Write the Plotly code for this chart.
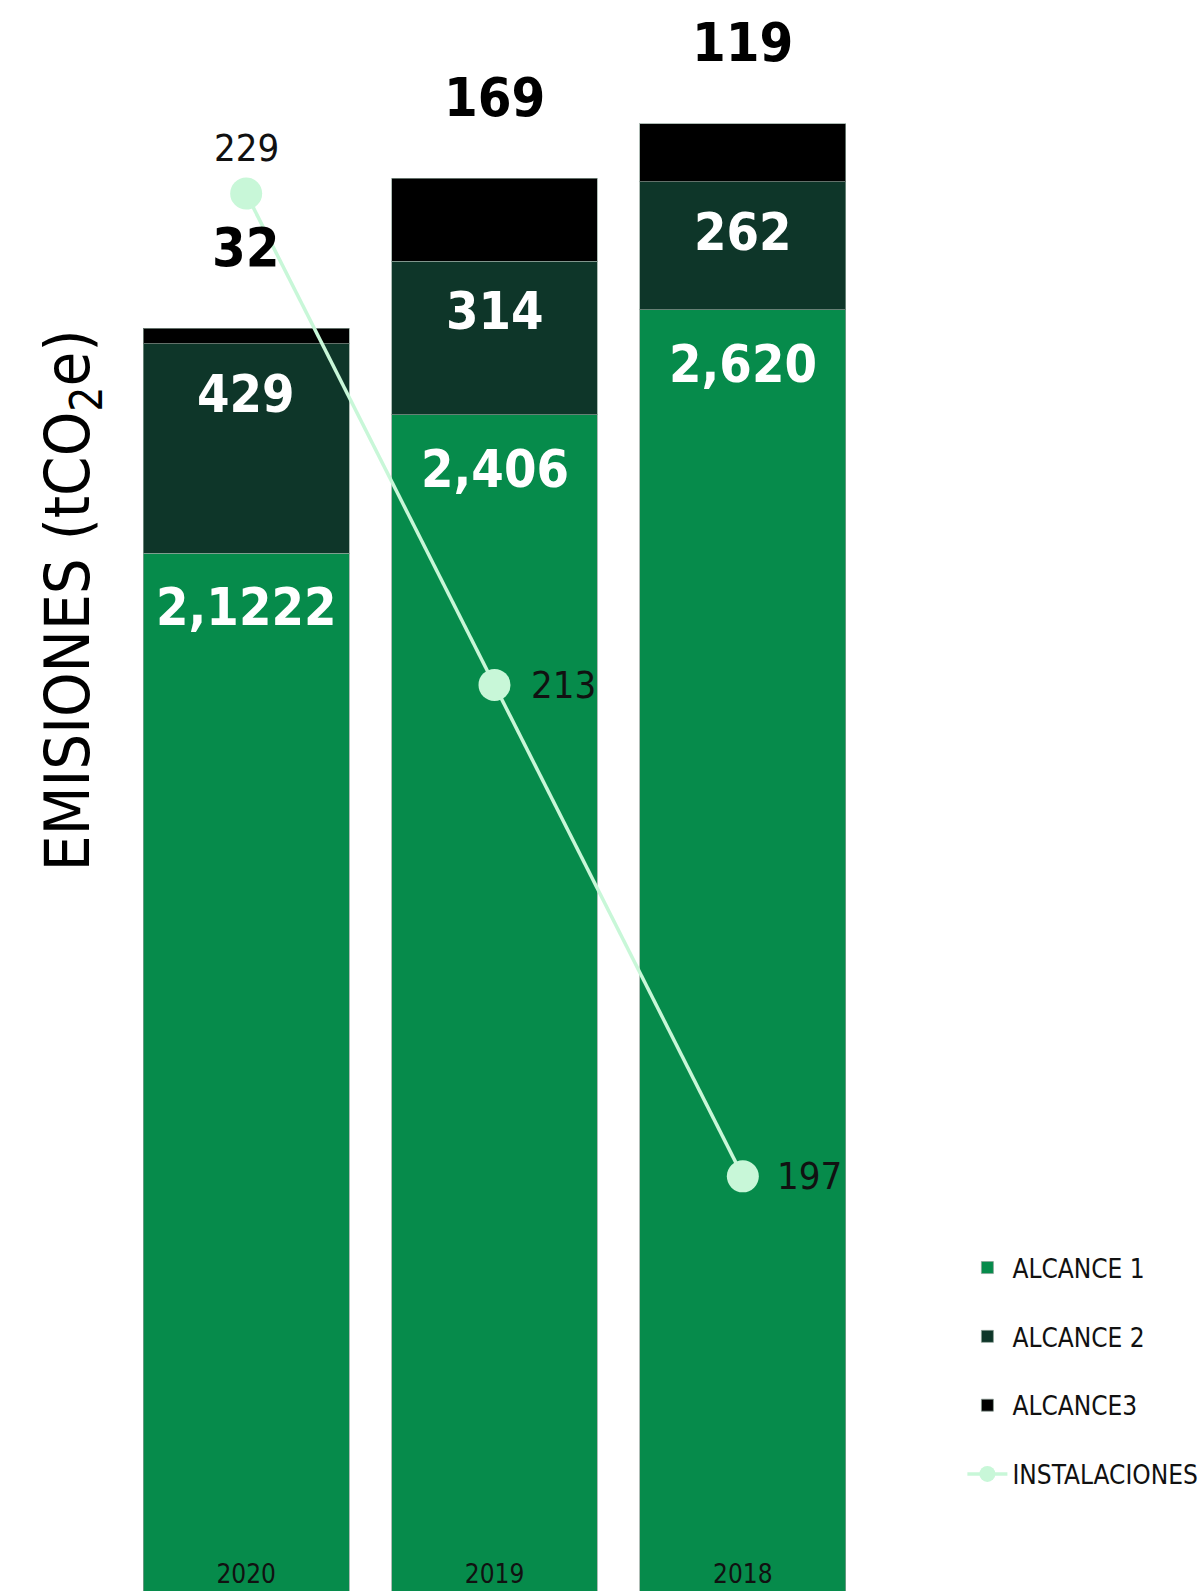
import plotly.graph_objects as go

# Emissions by scope (tCO2e) and number of installations per year
years = ["2020", "2019", "2018"]
alcance1 = [2122, 2406, 2620]
alcance2 = [429, 314, 262]
alcance3 = [32, 169, 119]
instalaciones = [229, 213, 197]

# Printed value labels
alcance1_labels = ["2,1222", "2,406", "2,620"]
alcance2_labels = ["429", "314", "262"]
alcance3_labels = ["32", "169", "119"]
# label placement around each installation marker: (side, x shift, y shift)
inst_label_place = [("center", 0, 46), ("left", 34, 0), ("left", 32, 0)]

GREEN = "#068b4b"
DARK = "#0e3629"
BLACK = "#000000"
MINT = "#c8f7d8"
FONT = "Liberation Sans Narrow, DejaVu Sans Condensed, Roboto Condensed, Roboto, sans-serif"

fig = go.Figure()

bar_line = dict(color="rgba(140,160,150,0.7)", width=1)
for name, vals, color, grp in [
    ("ALCANCE 1", alcance1, GREEN, "a1"),
    ("ALCANCE 2", alcance2, DARK, "a2"),
    ("ALCANCE3", alcance3, BLACK, "a3"),
]:
    fig.add_trace(go.Bar(
        x=years, y=vals, name=name, legendgroup=grp,
        marker=dict(color=color, line=bar_line),
        hoverinfo="skip",
    ))

fig.add_trace(go.Scatter(
    x=years, y=instalaciones, name="INSTALACIONES", legendgroup="inst",
    yaxis="y2", mode="lines+markers",
    line=dict(color=MINT, width=3.5),
    marker=dict(color=MINT, size=32),
    cliponaxis=False,
))

annotations = []
for i in range(len(years)):
    top1 = alcance1[i]
    top2 = alcance1[i] + alcance2[i]
    top3 = top2 + alcance3[i]
    annotations.append(dict(
        x=i, y=top1, xref="x", yref="y", text=f"<b>{alcance1_labels[i]}</b>",
        showarrow=False, yanchor="middle", yshift=-54,
        font=dict(family=FONT, size=52, color="white"),
    ))
    annotations.append(dict(
        x=i, y=top2, xref="x", yref="y", text=f"<b>{alcance2_labels[i]}</b>",
        showarrow=False, yanchor="middle", yshift=-50,
        font=dict(family=FONT, size=52, color="white"),
    ))
    annotations.append(dict(
        x=i, y=top3, xref="x", yref="y", text=f"<b>{alcance3_labels[i]}</b>",
        showarrow=False, yanchor="middle", yshift=81,
        font=dict(family=FONT, size=54, color=BLACK),
    ))
    side, dx, dy = inst_label_place[i]
    annotations.append(dict(
        x=i, y=instalaciones[i], xref="x", yref="y2", text=str(instalaciones[i]),
        showarrow=False, xanchor=side, yanchor="middle", xshift=dx, yshift=dy,
        font=dict(family=FONT, size=38, color="#111111"),
    ))

annotations.append(dict(
    x=-0.068, y=0.623, xref="paper", yref="paper",
    text="EMISIONES (tCO<sub>2</sub>e)", textangle=-90,
    showarrow=False, xanchor="center", yanchor="middle",
    font=dict(family=FONT, size=63, color=BLACK),
))

fig.update_layout(
    width=1200, height=1591,
    margin=dict(l=122, r=333, t=0, b=0, autoexpand=False),
    paper_bgcolor="white", plot_bgcolor="white",
    barmode="stack", bargap=0.171,
    showlegend=True,
    legend=dict(
        xref="container", yref="container",
        x=0.802, y=0.218, xanchor="left", yanchor="top",
        traceorder="grouped", tracegroupgap=32,
        font=dict(family=FONT, size=26, color="#111111"),
        itemwidth=40, bgcolor="rgba(0,0,0,0)",
    ),
    xaxis=dict(
        type="category", range=[-0.5, 2.5],
        showgrid=False, zeroline=False, showline=False,
        ticks="", ticklabelposition="inside",
        tickfont=dict(family=FONT, size=26, color="#111111"),
    ),
    yaxis=dict(range=[0, 3254], visible=False, showgrid=False),
    yaxis2=dict(range=[183.5, 235.3], overlaying="y", visible=False,
                showgrid=False),
    annotations=annotations,
)

fig.write_html("out.html")
